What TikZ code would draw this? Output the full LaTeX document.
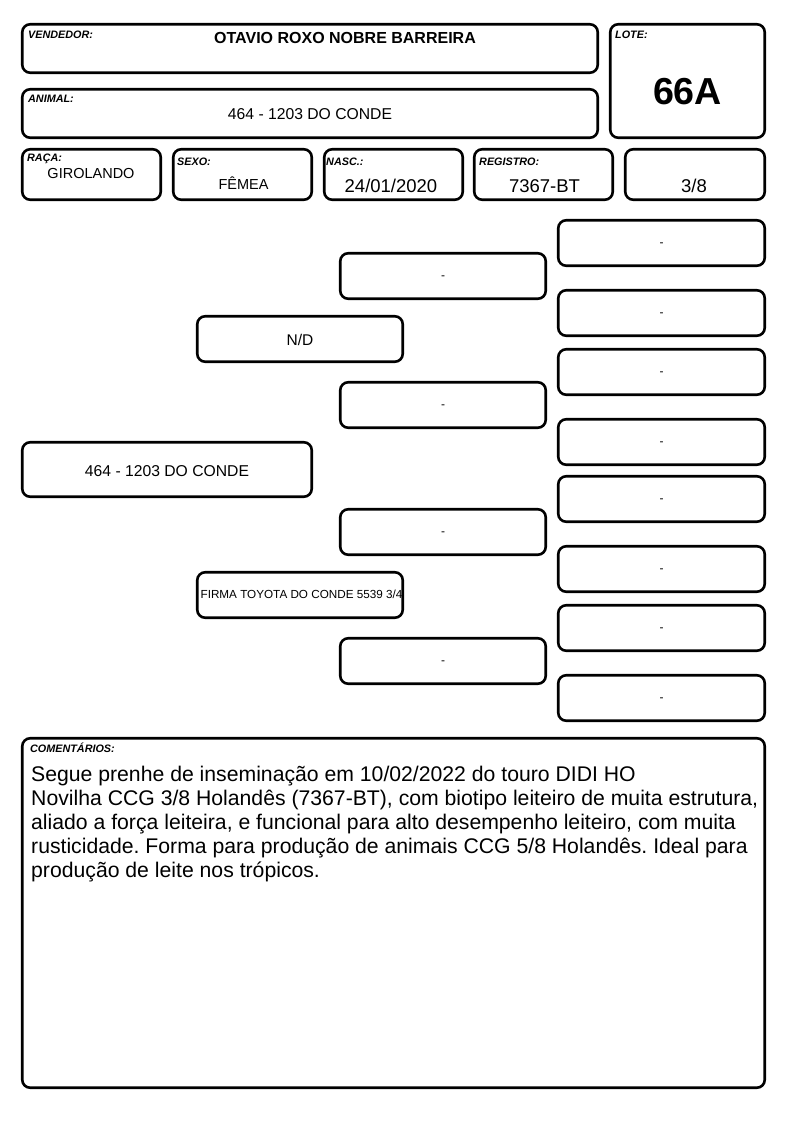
\documentclass[tikz,border=0pt]{standalone}
\usepackage{fontspec}
\setmainfont{Liberation Sans}
\frenchspacing
\newcommand\fs[1]{\fontsize{#1}{#1}\selectfont}
\newcommand\mybox[5]{\node[bx, minimum width={(#4)-(#2)-2.5}, minimum height={(#5)-(#3)-2.5}] (#1) at ({((#2)+(#4))/2},{((#3)+(#5))/2}) {};}
\begin{document}
\begin{tikzpicture}[x=1pt,y=-1pt,
  bx/.style={draw, line width=2.6pt, rounded corners=8pt, inner sep=0pt, outer sep=0pt},
  lbl/.style={anchor=base west, inner sep=0pt, font=\fs{10.8}\bfseries\itshape},
  val/.style={anchor=base, inner sep=0pt},
  hyph/.style={anchor=base, inner sep=0pt, font=\fs{12}},
  ped/.style={anchor=base, inner sep=0pt, font=\fs{15.7}},
  cmt/.style={anchor=base west, inner sep=0pt, font=\fs{21.2}},
]
\useasboundingbox (0,0) rectangle (794,1123);
% header boxes
\mybox{vend}{21}{23}{599}{74}
\mybox{lote}{609}{23}{766}{139}
\mybox{anim}{21}{88}{599}{139}
\mybox{raca}{21}{148}{162}{201}
\mybox{sexo}{172}{148}{313}{201}
\mybox{nasc}{323}{148}{464}{201}
\mybox{reg}{473}{148}{614}{201}
\mybox{frac}{624}{148}{766}{201}
% header texts
\node[lbl] (vendl) at (28,39) {VENDEDOR:};
\node[val, font=\fs{16}\bfseries] (vendv) at (345,43.3) {OTAVIO ROXO NOBRE BARREIRA};
\node[lbl] (animl) at (28,103) {ANIMAL:};
\node[val, font=\fs{15.7}] (animv) at (310,119.3) {464 - 1203 DO CONDE};
\node[lbl] (lotel) at (615,39) {LOTE:};
\node[val, font=\fs{37.6}\bfseries] (lotev) at (687.5,105) {66A};
\node[lbl] (racal) at (27,161.5) {RAÇA:};
\node[val, font=\fs{14.5}] (racav) at (91,178.3) {GIROLANDO};
\node[lbl] (sexol) at (177,165.5) {SEXO:};
\node[val, font=\fs{14.5}] (sexov) at (243.5,189.3) {FÊMEA};
\node[lbl] (nascl) at (326,165.5) {NASC.:};
\node[val, font=\fs{18.5}] (nascv) at (391,193) {24/01/2020};
\node[lbl] (regl) at (479,165.5) {REGISTRO:};
\node[val, font=\fs{18.5}] (regv) at (544.5,193) {7367-BT};
\node[val, font=\fs{18.5}] (fracv) at (694,193) {3/8};
% pedigree column 1
\mybox{p1}{21}{441}{313}{498}
\node[ped] (p1t) at (167,476) {464 - 1203 DO CONDE};
% column 2
\mybox{p2a}{196}{315}{404}{363}
\node[ped, font=\fs{15.5}] (p2at) at (300,345.5) {N/D};
\mybox{p2b}{196}{571}{404}{619}
\node[val, font=\fs{11.7}] (p2bt) at (301.5,598.3) {FIRMA TOYOTA DO CONDE 5539 3/4};
% column 3
\mybox{p3a}{339}{252}{547}{300}
\mybox{p3b}{339}{381}{547}{429}
\mybox{p3c}{339}{508}{547}{556}
\mybox{p3d}{339}{637}{547}{685}
\foreach \n in {p3a,p3b,p3c,p3d}{\node[hyph] (\n-t) at ([yshift=-3.3pt]\n.center) {-};}
% column 4
\mybox{p4a}{557}{219}{766}{267}
\mybox{p4b}{557}{289}{766}{337}
\mybox{p4c}{557}{348}{766}{396}
\mybox{p4d}{557}{418}{766}{466}
\mybox{p4e}{557}{475}{766}{523}
\mybox{p4f}{557}{545}{766}{593}
\mybox{p4g}{557}{604}{766}{652}
\mybox{p4h}{557}{674}{766}{722}
\foreach \n in {p4a,p4b,p4c,p4d,p4e,p4f,p4g,p4h}{\node[hyph] (\n-t) at ([yshift=-3.3pt]\n.center) {-};}
% comments
\mybox{com}{21}{737}{766}{1089}
\node[lbl] (coml) at (30,752) {COMENTÁRIOS:};
\node[cmt] (c1) at (31,781) {Segue prenhe de inseminação em 10/02/2022 do touro DIDI HO};
\node[cmt] (c2) at (31,805) {Novilha CCG 3/8 Holandês (7367-BT), com biotipo leiteiro de muita estrutura,};
\node[cmt] (c3) at (31,829) {aliado a força leiteira, e funcional para alto desempenho leiteiro, com muita};
\node[cmt] (c4) at (31,853) {rusticidade. Forma para produção de animais CCG 5/8 Holandês. Ideal para};
\node[cmt] (c5) at (31,877) {produção de leite nos trópicos.};
\end{tikzpicture}
\end{document}
